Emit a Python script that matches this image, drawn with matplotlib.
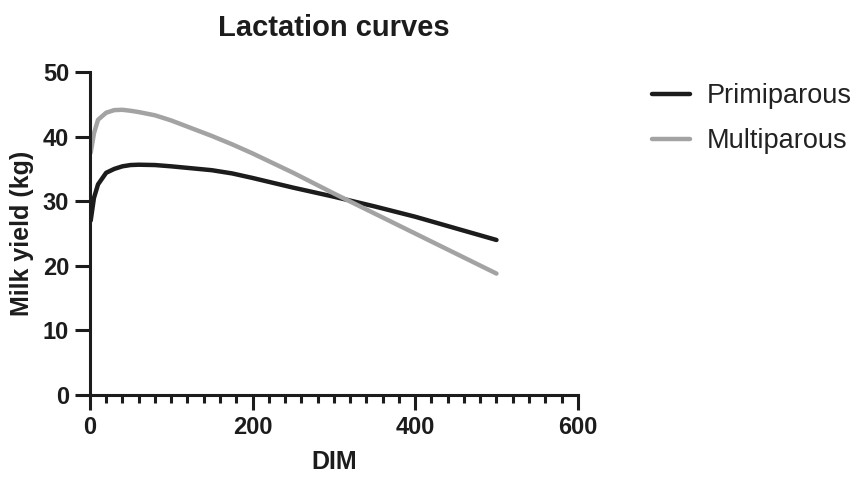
import matplotlib
matplotlib.use("Agg")
import matplotlib.pyplot as plt
from matplotlib.ticker import MultipleLocator

plt.rcParams['font.family'] = ['Liberation Sans', 'DejaVu Sans']

# days in milk and fitted yields (kg/day)
dim = [1, 5, 10, 20, 30, 40, 50, 60, 80, 100, 125, 150, 175, 200,
       250, 300, 350, 400, 450, 500]
primiparous = [27.0, 30.5, 32.6, 34.4, 35.0, 35.4, 35.6, 35.65, 35.6, 35.4, 35.1,
               34.8, 34.3, 33.6, 32.1, 30.7, 29.2, 27.6, 25.8, 24.0]
multiparous = [37.5, 40.5, 42.6, 43.7, 44.1, 44.15, 44.0, 43.8, 43.3, 42.5, 41.3,
               40.1, 38.8, 37.4, 34.4, 31.2, 28.1, 25.0, 21.9, 18.8]

fig = plt.figure(figsize=(8.56, 4.8), dpi=100)
ax = fig.add_axes([0.105, 0.177, 0.57, 0.673])

ax.plot(dim, primiparous, color='#1c1c1c', lw=3.2, solid_capstyle='round',
        label='Primiparous')
ax.plot(dim, multiparous, color='#a3a3a3', lw=3.2, solid_capstyle='round',
        label='Multiparous')

ax.set_xlim(0, 600)
ax.set_ylim(0, 50)
ax.xaxis.set_major_locator(MultipleLocator(200))
ax.xaxis.set_minor_locator(MultipleLocator(20))
ax.yaxis.set_major_locator(MultipleLocator(10))

for s in ['top', 'right']:
    ax.spines[s].set_visible(False)
for s in ['left', 'bottom']:
    ax.spines[s].set_linewidth(2.2)
    ax.spines[s].set_color('#1c1c1c')

ax.tick_params(axis='both', which='major', length=11, width=2.2, color='#1c1c1c',
               labelsize=17, pad=4)
ax.tick_params(axis='x', which='minor', length=6, width=2.2, color='#1c1c1c')
for lab in ax.get_xticklabels() + ax.get_yticklabels():
    lab.set_fontweight('bold')
    lab.set_color('#1c1c1c')

ax.set_xlabel('DIM', fontsize=18, fontweight='bold', color='#1c1c1c', labelpad=8)
ax.set_ylabel('Milk yield (kg)', fontsize=18, fontweight='bold', color='#1c1c1c', labelpad=6)
ax.set_title('Lactation curves', fontsize=21, fontweight='bold', color='#1c1c1c', pad=26)

leg = ax.legend(loc='upper left', bbox_to_anchor=(1.103, 1.04), frameon=False,
                fontsize=19.5, handlelength=1.4, handletextpad=0.6, labelspacing=0.7)
for t in leg.get_texts():
    t.set_color('#222222')

fig.savefig('out.png', dpi=100)
